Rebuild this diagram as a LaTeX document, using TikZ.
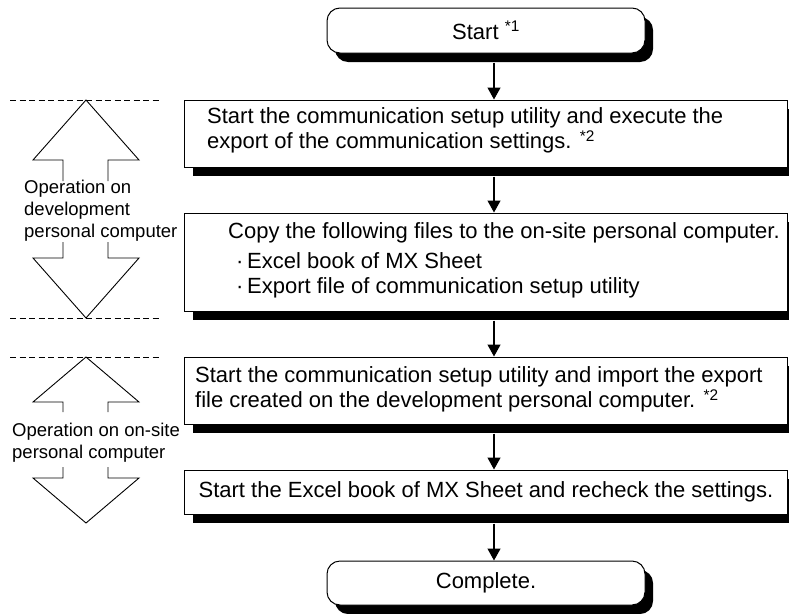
\documentclass[tikz,border=0pt]{standalone}
\usepackage{fontspec}
\setmainfont{Liberation Sans}
\usetikzlibrary{arrows.meta,shadows}
\begin{document}
\begin{tikzpicture}[x=1pt,y=-1pt,
  box/.style={draw=black, line width=1pt, fill=white, inner sep=0pt,
    general shadow={fill=black, shadow xshift=8pt, shadow yshift=-9pt}},
  rbox/.style={box, rounded corners=13pt},
  arr/.style={line width=1.3pt, -{Triangle[length=12pt,width=13pt]}},
  txt/.style={font=\fontsize{22}{25}\selectfont, align=left, inner sep=0pt},
  lab/.style={font=\fontsize{18.5}{22}\selectfont, align=left, inner sep=0pt},
  divline/.style={line width=1pt, dash pattern=on 6pt off 3.5pt},
  hollow/.style={line width=0.9pt, line join=miter}
]
\useasboundingbox (0,0) rectangle (789,613);

% main boxes
\node[rbox, minimum width=318pt, minimum height=45pt, txt] (start) at (486,30.5) {Start \textsuperscript{*1}};
\node[box, minimum width=603pt, minimum height=67pt] (b1) at (486,133.5) {};
\node[box, minimum width=603pt, minimum height=98pt] (b2) at (486,262) {};
\node[box, minimum width=603pt, minimum height=67pt] (b3) at (486,390.5) {};
\node[box, minimum width=603pt, minimum height=44pt, txt] (b4) at (486,492) {Start the Excel book of MX Sheet and recheck the settings.};
\node[rbox, minimum width=318pt, minimum height=44pt, txt] (done) at (486,583) {Complete.};

% box texts
\node[txt, anchor=west] (t1) at (207,130.5) {Start the communication setup utility and execute the\\export of the communication settings. \textsuperscript{*2}};
\node[txt, anchor=west] (t2) at (228,260) {Copy the following files to the on-site personal computer.\\[5pt]\hspace*{8pt}·\,Excel book of MX Sheet\\\hspace*{8pt}·\,Export file of communication setup utility};
\node[txt, anchor=west] (t3) at (195,389.5) {Start the communication setup utility and import the export\\file created on the development personal computer. \textsuperscript{*2}};

% connectors
\draw[arr] ([xshift=8pt,yshift=-9pt]start.south) -- ([xshift=8pt]b1.north);
\draw[arr] ([xshift=8pt,yshift=-9pt]b1.south) -- ([xshift=8pt]b2.north);
\draw[arr] ([xshift=8pt,yshift=-9pt]b2.south) -- ([xshift=8pt]b3.north);
\draw[arr] ([xshift=8pt,yshift=-9pt]b3.south) -- ([xshift=8pt]b4.north);
\draw[arr] ([xshift=8pt,yshift=-9pt]b4.south) -- ([xshift=8pt]done.north);

% left side: development PC
\draw[divline] (10,100) -- (162,100);
\draw[divline] (10,318) -- (162,318);
\draw[hollow] (63,181) -- (63,160) -- (33,160) -- (86,100) -- (139,160) -- (108,160) -- (108,181);
\draw[hollow] (63,242) -- (63,258) -- (33,258) -- (86,318) -- (139,258) -- (108,258) -- (108,242);
\node[lab, anchor=west] (l1) at (24,211) {Operation on\\development\\personal computer};

% left side: on-site PC
\draw[divline] (10,357) -- (162,357);
\draw[hollow] (63,412) -- (63,402) -- (33,402) -- (86,357) -- (139,402) -- (108,402) -- (108,412);
\draw[hollow] (63,467) -- (63,478) -- (33,478) -- (86,523) -- (139,478) -- (108,478) -- (108,467);
\node[lab, anchor=west] (l2) at (12,442.5) {Operation on on-site\\personal computer};
\end{tikzpicture}
\end{document}
